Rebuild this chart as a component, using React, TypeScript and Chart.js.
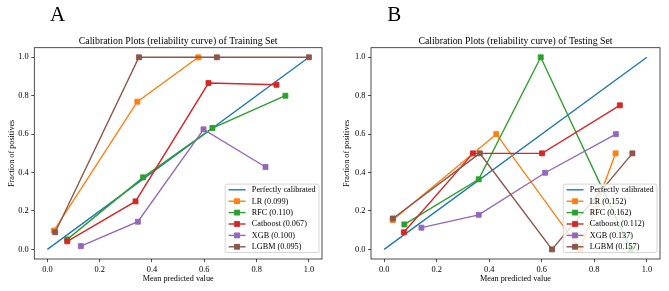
import React, { useEffect, useRef } from "react";
import { Chart, registerables } from "chart.js";

Chart.register(...registerables);

const FONT = "'Liberation Serif', 'Times New Roman', Times, serif";

// ---------- data ----------
const tickValues = [0, 0.2, 0.4, 0.6, 0.8, 1.0];
const modelNames = ["LR", "RFC", "Catboost", "XGB", "LGBM"];
const perfectLabel = "Perfectly calibrated";
const perfectX = [0, 1];
const perfectY = [0, 1];

const trainTitle = "Calibration Plots (reliability curve) of Training Set";
const testTitle = "Calibration Plots (reliability curve) of Testing Set";

const trainBrier = [0.099, 0.11, 0.067, 0.1, 0.095];
const trainLR_x = [0.025, 0.344, 0.577];
const trainLR_y = [0.098, 0.769, 1.0];
const trainRFC_x = [0.076, 0.366, 0.631, 0.91];
const trainRFC_y = [0.052, 0.375, 0.632, 0.8];
const trainCat_x = [0.076, 0.337, 0.616, 0.876];
const trainCat_y = [0.042, 0.25, 0.866, 0.857];
const trainXGB_x = [0.128, 0.346, 0.597, 0.834];
const trainXGB_y = [0.017, 0.144, 0.625, 0.429];
const trainLGBM_x = [0.03, 0.35, 0.648, 1.0];
const trainLGBM_y = [0.089, 1.0, 1.0, 1.0];

const testBrier = [0.152, 0.162, 0.112, 0.137, 0.157];
const testLR_x = [0.033, 0.427, 0.746, 0.881];
const testLR_y = [0.153, 0.6, 0.0, 0.5];
const testRFC_x = [0.077, 0.36, 0.596, 0.939];
const testRFC_y = [0.13, 0.365, 1.0, 0.0];
const testCat_x = [0.075, 0.338, 0.601, 0.897];
const testCat_y = [0.089, 0.5, 0.5, 0.75];
const testXGB_x = [0.142, 0.36, 0.613, 0.882];
const testXGB_y = [0.113, 0.18, 0.399, 0.6];
const testLGBM_x = [0.033, 0.364, 0.639, 0.945];
const testLGBM_y = [0.161, 0.5, 0.0, 0.5];

const perfectColor = "#1f77b4";
const modelColors = ["#ff7f0e", "#2ca02c", "#d62728", "#9467bd", "#8c564b"];

const trainSeries = [
  [trainLR_x, trainLR_y],
  [trainRFC_x, trainRFC_y],
  [trainCat_x, trainCat_y],
  [trainXGB_x, trainXGB_y],
  [trainLGBM_x, trainLGBM_y],
];
const testSeries = [
  [testLR_x, testLR_y],
  [testRFC_x, testRFC_y],
  [testCat_x, testCat_y],
  [testXGB_x, testXGB_y],
  [testLGBM_x, testLGBM_y],
];

const toPoints = (xs: number[], ys: number[]) => xs.map((x, i) => ({ x, y: ys[i] }));

type PanelProps = {
  letter: string;
  title: string;
  series: number[][][];
  brier: number[];
  left: number;
  yAxisWidth: number;
  padRight: number;
  yTitlePad: number;
  letterX: number;
};

function Panel(props: PanelProps) {
  const ref = useRef<HTMLCanvasElement | null>(null);
  useEffect(() => {
    if (!ref.current) return;
    const labels = modelNames.map((n, i) => `${n} (${props.brier[i].toFixed(3)})`);
    const datasets: any[] = [
      {
        label: perfectLabel,
        data: toPoints(perfectX, perfectY),
        borderColor: perfectColor,
        backgroundColor: perfectColor,
        borderWidth: 1.4,
        pointRadius: 0,
        showLine: true,
        order: 10,
        clip: false,
      },
      ...props.series.map(([xs, ys], i) => ({
        label: labels[i],
        data: toPoints(xs, ys),
        borderColor: modelColors[i],
        backgroundColor: modelColors[i],
        borderWidth: 1.4,
        pointStyle: "rect",
        pointRadius: 3.5,
        pointBorderWidth: 0.9,
        pointBorderColor: modelColors[i],
        pointBackgroundColor: modelColors[i],
        showLine: true,
        order: 5 - i,
        clip: false,
      })),
    ];

    const overlay = {
      id: "overlay",
      afterDatasetsDraw(chart: any) {
        const { ctx, chartArea: ca } = chart;
        ctx.save();
        // frame
        ctx.strokeStyle = "#222";
        ctx.lineWidth = 0.8;
        ctx.strokeRect(ca.left, ca.top, ca.right - ca.left, ca.bottom - ca.top);
        // legend
        const fs = 8.2;
        ctx.font = `${fs}px ${FONT}`;
        const entries = [
          { label: perfectLabel, color: perfectColor, marker: false },
          ...labels.map((l, i) => ({ label: l, color: modelColors[i], marker: true })),
        ];
        const maxW = Math.max(...entries.map((e) => ctx.measureText(e.label).width));
        const pad = 3.3,
          handle = 17,
          gap = 6.3,
          rowH = 11.4,
          vpad = 5.7;
        const w = pad + handle + gap + maxW + pad;
        const h = 2 * vpad + (entries.length - 1) * rowH;
        const right = ca.right - 3;
        const bottom = ca.bottom - 6.5;
        const lx = right - w;
        const ty = bottom - h;
        ctx.beginPath();
        if ((ctx as any).roundRect) (ctx as any).roundRect(lx, ty, w, h, 2);
        else ctx.rect(lx, ty, w, h);
        ctx.fillStyle = "rgba(255,255,255,0.8)";
        ctx.fill();
        ctx.strokeStyle = "#cccccc";
        ctx.lineWidth = 0.8;
        ctx.stroke();
        entries.forEach((e, i) => {
          const y = ty + vpad + i * rowH;
          ctx.strokeStyle = e.color;
          ctx.lineWidth = 1.4;
          ctx.beginPath();
          ctx.moveTo(lx + pad, y);
          ctx.lineTo(lx + pad + handle, y);
          ctx.stroke();
          if (e.marker) {
            ctx.fillStyle = e.color;
            ctx.fillRect(lx + pad + handle / 2 - 2.9, y - 2.9, 5.8, 5.8);
          }
          ctx.fillStyle = "#000";
          ctx.textBaseline = "middle";
          ctx.textAlign = "left";
          ctx.fillText(e.label, lx + pad + handle + gap, y + 0.3);
        });
        ctx.restore();
      },
      afterDraw(chart: any) {
        const { ctx, chartArea: ca } = chart;
        ctx.save();
        ctx.fillStyle = "#000";
        ctx.textBaseline = "alphabetic";
        ctx.textAlign = "center";
        ctx.font = `9.8px ${FONT}`;
        ctx.fillText(props.title, (ca.left + ca.right) / 2, 43.5);
        ctx.textAlign = "left";
        ctx.font = `21px ${FONT}`;
        ctx.fillText(props.letter, props.letterX, 20.8);
        ctx.restore();
      },
    };

    const tickFont = { family: FONT, size: 8.4 };
    const chart = new Chart(ref.current, {
      type: "scatter",
      data: { datasets },
      options: {
        animation: false,
        responsive: false,
        maintainAspectRatio: false,
        layout: { padding: { left: 0, right: props.padRight, top: 47.7, bottom: 0 } },
        plugins: {
          legend: { display: false },
          tooltip: { enabled: false },
          title: { display: false },
        },
        scales: {
          x: {
            type: "linear",
            min: -0.05,
            max: 1.05,
            afterBuildTicks: (axis: any) => {
              axis.ticks = tickValues.map((v) => ({ value: v }));
            },
            afterFit: (axis: any) => {
              axis.height = 32;
            },
            ticks: {
              font: tickFont,
              color: "#000",
              padding: 2.5,
              maxRotation: 0,
              autoSkip: false,
              callback: (v: any) => Number(v).toFixed(1),
            },
            grid: {
              display: true,
              drawOnChartArea: false,
              drawTicks: true,
              tickLength: 3,
              tickColor: "#222",
              lineWidth: 0.8,
            },
            border: { display: false },
            title: {
              display: true,
              text: "Mean predicted value",
              font: { family: FONT, size: 8.2 },
              color: "#000",
              padding: { top: 0, bottom: 6.8 },
            },
          },
          y: {
            type: "linear",
            min: -0.05,
            max: 1.05,
            afterBuildTicks: (axis: any) => {
              axis.ticks = tickValues.map((v) => ({ value: v }));
            },
            afterFit: (axis: any) => {
              axis.width = props.yAxisWidth;
            },
            ticks: {
              font: tickFont,
              color: "#000",
              padding: 2.5,
              autoSkip: false,
              callback: (v: any) => Number(v).toFixed(1),
            },
            grid: {
              display: true,
              drawOnChartArea: false,
              drawTicks: true,
              tickLength: 3,
              tickColor: "#222",
              lineWidth: 0.8,
            },
            border: { display: false },
            title: {
              display: true,
              text: "Fraction of positives",
              font: { family: FONT, size: 8.2 },
              color: "#000",
              padding: { top: props.yTitlePad, bottom: 0 },
            },
          },
        },
      } as any,
      plugins: [overlay as any],
    });
    return () => chart.destroy();
  }, []);

  return (
    <canvas
      ref={ref}
      width={335}
      height={291}
      style={{ position: "absolute", left: props.left, top: 0, width: 335, height: 291 }}
    />
  );
}

export default function App() {
  return (
    <div
      style={{
        position: "absolute",
        left: 0,
        top: 0,
        width: 669,
        height: 291,
        background: "#fff",
        overflow: "hidden",
      }}
    >
      <Panel
        letter="A"
        title={trainTitle}
        series={trainSeries}
        brier={trainBrier}
        left={0}
        yAxisWidth={34.3}
        padRight={13}
        yTitlePad={6.8}
        letterX={50}
      />
      <Panel
        letter="B"
        title={testTitle}
        series={testSeries}
        brier={testBrier}
        left={334}
        yAxisWidth={37}
        padRight={9}
        yTitlePad={8.4}
        letterX={53.3}
      />
    </div>
  );
}
